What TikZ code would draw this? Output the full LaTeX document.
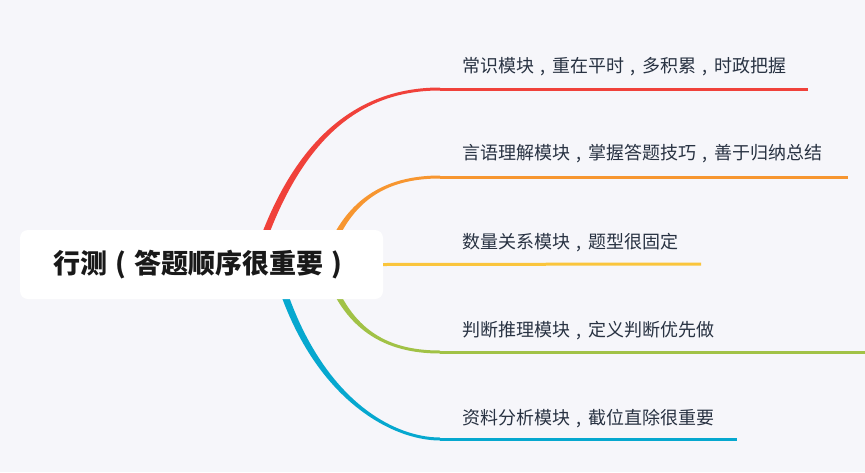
\documentclass[tikz,border=0pt]{standalone}
\usepackage{fontspec}
\newfontfamily\cjk{Noto Sans CJK SC}
\usepackage{xcolor}
\definecolor{mmbg}{RGB}{246,246,250}
\definecolor{mmred}{RGB}{240,65,58}
\definecolor{mmorange}{RGB}{247,150,48}
\definecolor{mmyellow}{RGB}{250,197,60}
\definecolor{mmgreen}{RGB}{161,194,70}
\definecolor{mmblue}{RGB}{6,168,207}
\definecolor{mmtext}{RGB}{40,50,66}
\usetikzlibrary{positioning}
% centred full-width punctuation
\newcommand\cnComma{\makebox[1em]{,}}
\newcommand\cnLP{\makebox[1em]{(}}
\newcommand\cnRP{\makebox[1em]{)}}

\begin{document}
\begin{tikzpicture}[x=1pt, y=-1pt,
  rbox/.style={rectangle, rounded corners=8pt, fill=white,
               minimum width=363pt, minimum height=69pt,
               font=\cjk\fontsize{27}{27}\selectfont\bfseries, text=black!90},
  lbox/.style={inner sep=0pt, anchor=base west,
               font=\cjk\fontsize{18}{18}\selectfont, text=mmtext},
  bline/.style={line width=3pt}
]
\fill[mmbg] (0,0) rectangle (865,472);
\useasboundingbox (0,0) rectangle (865,472);

% Branch ends
\coordinate (cs-s) at (440,89);  \coordinate (cs-e) at (808,89);
\coordinate (yy-s) at (440,177); \coordinate (yy-e) at (848,177);
\coordinate (sl-e) at (701,264);
\coordinate (pd-s) at (440,352); \coordinate (pd-e) at (865,352);
\coordinate (zl-s) at (440,439); \coordinate (zl-e) at (737,439);

% Tapered curves (behind the central node)
\fill[mmred]    (251.7,263) .. controls (296.7,119) and (375,87.5) .. (440,87.5)
                -- (440,90.5) .. controls (375,90.5) and (303.3,121) .. (258.3,265) -- cycle;
\fill[mmorange] (322.1,263.1) .. controls (342.1,199.1) and (385,175.5) .. (440,175.5)
                -- (440,178.5) .. controls (385,178.5) and (347.9,200.9) .. (327.9,264.9) -- cycle;
\fill[mmgreen]  (322.1,264.9) .. controls (342.1,329.9) and (385,353.5) .. (440,353.5)
                -- (440,350.5) .. controls (385,350.5) and (347.9,328.1) .. (327.9,263.1) -- cycle;
\fill[mmblue]   (271.6,264.9) .. controls (306.6,395.9) and (390,440.5) .. (440,440.5)
                -- (440,437.5) .. controls (390,437.5) and (313.4,394.1) .. (278.4,263.1) -- cycle;

% Central node
\node[rbox] (root) at (201.5,264.5) {行测\cnLP 答题顺序很重要\cnRP};

% Branch lines
\draw[bline, mmred]    (cs-s) -- (cs-e);
\draw[bline, mmorange] (yy-s) -- (yy-e);
\draw[bline, mmyellow] (root.east) -- (sl-e);
\draw[bline, mmgreen]  (pd-s) -- (pd-e);
\draw[bline, mmblue]   (zl-s) -- (zl-e);

% Branch labels
\node[lbox] (cs) at (462,72)  {常识模块\cnComma 重在平时\cnComma 多积累\cnComma 时政把握};
\node[lbox] (yy) at (462,159) {言语理解模块\cnComma 掌握答题技巧\cnComma 善于归纳总结};
\node[lbox] (sl) at (462,248) {数量关系模块\cnComma 题型很固定};
\node[lbox] (pd) at (462,336) {判断推理模块\cnComma 定义判断优先做};
\node[lbox] (zl) at (462,424) {资料分析模块\cnComma 截位直除很重要};
\end{tikzpicture}
\end{document}
